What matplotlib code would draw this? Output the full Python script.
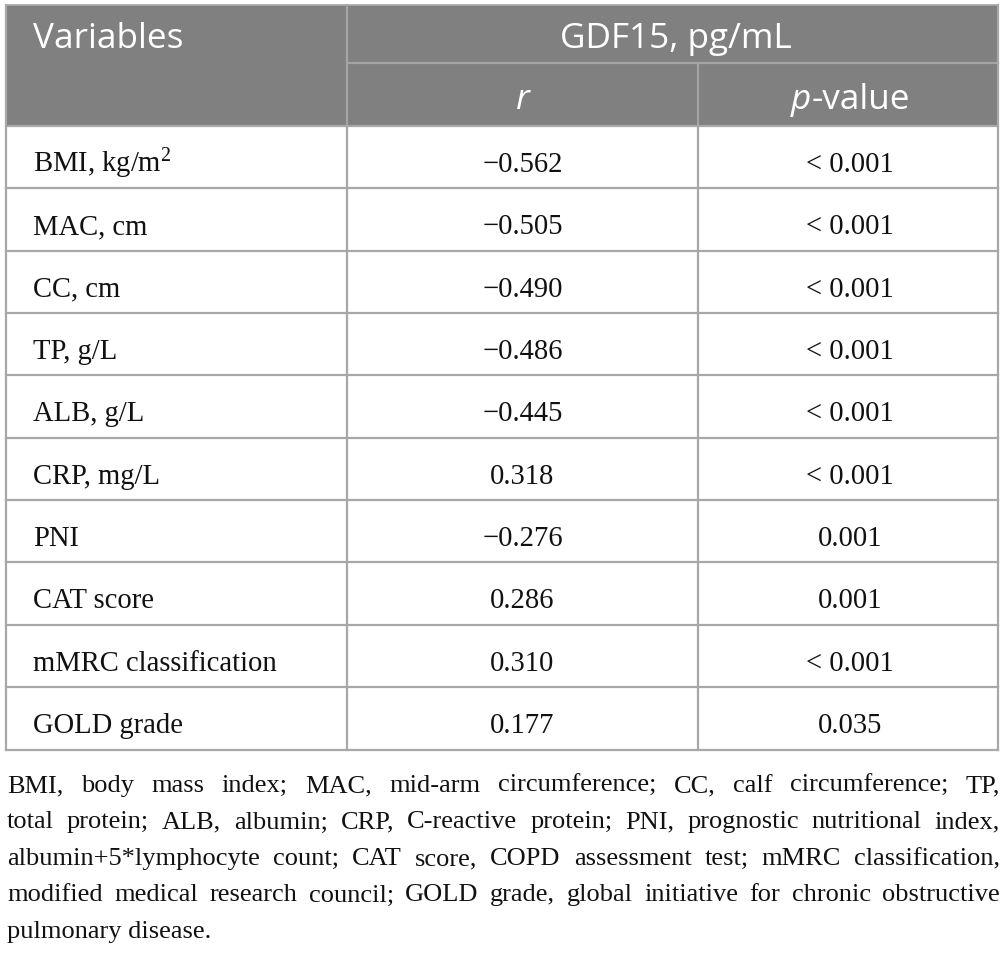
import matplotlib
matplotlib.use("Agg")
import matplotlib.pyplot as plt
from matplotlib.patches import Rectangle

# ---------------- data ----------------
variables = ["BMI, kg/m$^{2}$", "MAC, cm", "CC, cm", "TP, g/L", "ALB, g/L",
             "CRP, mg/L", "PNI", "CAT score", "mMRC classification", "GOLD grade"]
r_values = [-0.562, -0.505, -0.490, -0.486, -0.445, 0.318, -0.276, 0.286, 0.310, 0.177]
p_values = ["< 0.001", "< 0.001", "< 0.001", "< 0.001", "< 0.001", "< 0.001",
            "0.001", "0.001", "< 0.001", "0.035"]
header_var = "Variables"
header_group = "GDF15, pg/mL"
header_r = "r"
header_p = ("p", "-value")
footnote_lines = [
    "BMI, body mass index; MAC, mid-arm circumference; CC, calf circumference; TP,",
    "total protein; ALB, albumin; CRP, C-reactive protein; PNI, prognostic nutritional index,",
    "albumin+5*lymphocyte count; CAT score, COPD assessment test; mMRC classification,",
    "modified medical research council; GOLD grade, global initiative for chronic obstructive",
    "pulmonary disease.",
]

# ---------------- style ----------------
plt.rcParams["mathtext.fontset"] = "custom"
plt.rcParams["mathtext.rm"] = "Liberation Serif"
plt.rcParams["mathtext.it"] = "Liberation Serif:italic"
plt.rcParams["mathtext.bf"] = "Liberation Serif:bold"

W, H = 1006, 954
fig = plt.figure(figsize=(W / 100, H / 100), dpi=100)
ax = fig.add_axes([0, 0, 1, 1])
ax.set_xlim(0, W)
ax.set_ylim(H, 0)
ax.axis("off")

HEAD_BG = "#808080"
LINE = "#a8a8a8"
HEAD_LINE = "#a4a4a4"
TXT = "#111111"
SERIF = "Liberation Serif"
SANS = "Open Sans"
BODY_FS = 20.6
HEAD_FS = 25.3
FOOT_FS = 19.0

left, right = 6, 998
x1, x2 = 347, 698
top, mid, head_bot = 6, 64, 127
row_h = 62.35
n = len(variables)
table_bot = head_bot + n * row_h

# header background
ax.add_patch(Rectangle((left, top), right - left, head_bot - top, facecolor=HEAD_BG,
                       edgecolor="none", zorder=1))
# header inner lines
ax.plot([x1, right], [mid, mid], color=HEAD_LINE, lw=1.6, zorder=2)
ax.plot([x1, x1], [top, head_bot], color=HEAD_LINE, lw=1.6, zorder=2)
ax.plot([x2, x2], [mid, head_bot], color=HEAD_LINE, lw=1.6, zorder=2)

# body lines
for k in range(n + 1):
    y = head_bot + k * row_h
    ax.plot([left, right], [y, y], color=LINE, lw=1.6, zorder=2)
for x in (x1, x2):
    ax.plot([x, x], [head_bot, table_bot], color=LINE, lw=1.6, zorder=2)
# outer border
ax.plot([left, left], [top, table_bot], color=LINE, lw=1.6, zorder=3)
ax.plot([right, right], [top, table_bot], color=LINE, lw=1.6, zorder=3)
ax.plot([left, right], [top, top], color=LINE, lw=1.2, zorder=3)

c2 = (x1 + x2) / 2
c3 = (x2 + right) / 2 + 2

# header text
ax.text(33, top + 42, header_var, color="white", fontsize=HEAD_FS, family=SANS,
        ha="left", va="baseline", zorder=4)
ax.text(c2 + (right - x2) / 2 + 3, top + 42, header_group, color="white", fontsize=HEAD_FS,
        family=SANS, ha="center", va="baseline", zorder=4)
ax.text(c2, mid + 45, header_r, color="white", fontsize=HEAD_FS, family=SANS,
        style="italic", ha="center", va="baseline", zorder=4)

fig.canvas.draw()
renderer = fig.canvas.get_renderer()

tp1 = ax.text(0, mid + 45, header_p[0], color="white", fontsize=HEAD_FS, family=SANS,
              style="italic", ha="left", va="baseline", zorder=4)
tp2 = ax.text(0, mid + 45, header_p[1], color="white", fontsize=HEAD_FS, family=SANS,
              ha="left", va="baseline", zorder=4)
w1 = tp1.get_window_extent(renderer).width
w2 = tp2.get_window_extent(renderer).width
start = c3 - (w1 + w2) / 2
tp1.set_x(start)
tp2.set_x(start + w1 + 1)

# body text
for i, (var, r, p) in enumerate(zip(variables, r_values, p_values)):
    yb = head_bot + i * row_h + 45
    ax.text(33, yb, var, fontsize=BODY_FS, family=SERIF, color=TXT,
            ha="left", va="baseline", zorder=4)
    ax.text(c2, yb, f"{r:.3f}".replace("-", "\u2212"), fontsize=BODY_FS, family=SERIF,
            color=TXT, ha="center", va="baseline", zorder=4)
    ax.text(c3, yb, p, fontsize=BODY_FS, family=SERIF, color=TXT,
            ha="center", va="baseline", zorder=4)

# footnote, justified
foot_left, foot_right = 7, 1000
baselines = [792, 828.5, 865, 901.5, 938]
for li, (line, yb) in enumerate(zip(footnote_lines, baselines)):
    words = line.split(" ")
    if li == len(footnote_lines) - 1:
        ax.text(foot_left, yb, line, fontsize=FOOT_FS, family=SERIF, color=TXT,
                ha="left", va="baseline")
        continue
    texts = [ax.text(0, yb, w_, fontsize=FOOT_FS, family=SERIF, color=TXT,
                     ha="left", va="baseline") for w_ in words]
    widths = [t.get_window_extent(renderer).width for t in texts]
    gap = (foot_right - foot_left - sum(widths)) / (len(words) - 1)
    x = foot_left
    for t, wd in zip(texts, widths):
        t.set_x(x)
        x += wd + gap

fig.savefig("out.png", dpi=100, facecolor="white")
